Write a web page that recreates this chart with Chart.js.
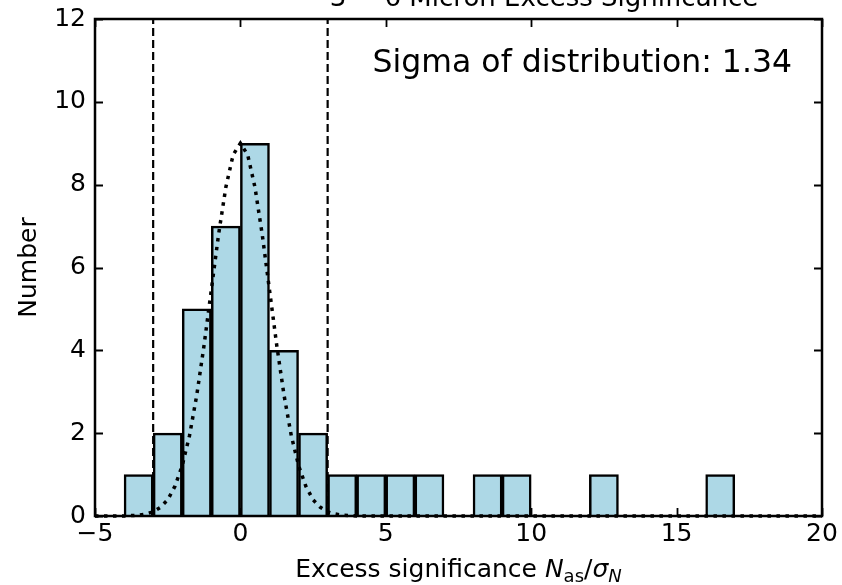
<!DOCTYPE html>
<html>
<head>
<meta charset="utf-8">
<script src="https://cdn.jsdelivr.net/npm/chart.js@4"></script>
<style>
  html, body { margin: 0; padding: 0; background: #fff; }
  #wrap { width: 842px; height: 585px; }
</style>
</head>
<body>
<div id="wrap"><canvas id="histChart" width="842" height="585"></canvas></div>
<script>
// histogram bins (left edges, width 1) and counts
const binStarts = [-4, -3, -2, -1, 0, 1, 2, 3, 4, 5, 6, 7, 8, 9, 10, 11, 12, 13, 14, 15, 16];
const binCounts = [1, 2, 5, 7, 9, 4, 2, 1, 1, 1, 1, 0, 1, 1, 0, 0, 1, 0, 0, 0, 1];

// dotted reference curve
const fitX = [-5, -4.5, -4, -3.75, -3.5, -3.25, -3, -2.75, -2.5, -2.25, -2, -1.75, -1.5, -1.25, -1, -0.75, -0.5, -0.25, 0,
              0.25, 0.5, 0.75, 1, 1.25, 1.5, 1.75, 2, 2.25, 2.5, 2.75, 3, 3.25, 3.5, 3.75, 4, 4.5, 20];
const fitY = [0, 0, 0, 0.01, 0.02, 0.05, 0.10, 0.21, 0.39, 0.72, 1.22, 1.94, 2.92, 4.12, 5.46, 6.80, 7.94, 8.72, 9.00,
              8.72, 7.94, 6.80, 5.46, 4.12, 2.92, 1.94, 1.22, 0.72, 0.39, 0.21, 0.10, 0.05, 0.02, 0.01, 0, 0, 0];

// dashed cut lines
const cutLines = [-3, 3];

const xTicks = [-5, 0, 5, 10, 15, 20];
const yTicks = [0, 2, 4, 6, 8, 10, 12];

const FONT = "'DejaVu Sans', sans-serif";

const histData = binStarts.map((b, i) => ({ x: b + 0.5, y: binCounts[i] }));
const fitData = fitX.map((x, i) => ({ x: x, y: fitY[i] }));

const cutSets = cutLines.map(c => ({
    type: 'line',
    data: [{ x: c, y: 0 }, { x: c, y: 12 }],
    borderColor: '#000',
    borderWidth: 2.2,
    borderDash: [8, 4],
    pointRadius: 0,
    order: 0
}));

const minus = v => (v < 0 ? '\u2212' + Math.abs(v) : String(v));

const framePlugin = {
    id: 'frame',
    afterDatasetsDraw(chart) {
        const { ctx, chartArea: a, scales } = chart;
        ctx.save();
        ctx.strokeStyle = '#000';
        ctx.lineWidth = 2.5;
        ctx.strokeRect(a.left, a.top, a.right - a.left, a.bottom - a.top);
        ctx.lineWidth = 1.8;
        ctx.beginPath();
        xTicks.forEach(t => {
            const px = Math.round(scales.x.getPixelForValue(t)) + 0.5;
            ctx.moveTo(px, a.bottom); ctx.lineTo(px, a.bottom - 8);
            ctx.moveTo(px, a.top); ctx.lineTo(px, a.top + 8);
        });
        yTicks.forEach(t => {
            const py = Math.round(scales.y.getPixelForValue(t)) + 0.5;
            ctx.moveTo(a.left, py); ctx.lineTo(a.left + 8, py);
            ctx.moveTo(a.right, py); ctx.lineTo(a.right - 8, py);
        });
        ctx.stroke();
        ctx.restore();
    },
    afterDraw(chart) {
        const { ctx, chartArea: a } = chart;
        ctx.save();
        ctx.fillStyle = '#000';
        // title, cut off by the top edge
        ctx.font = '26px ' + FONT;
        ctx.textAlign = 'center';
        ctx.textBaseline = 'alphabetic';
        ctx.fillText('3 \u2212 6 Micron Excess Significance', 544, 6);

        // annotation
        ctx.font = '31.5px ' + FONT;
        ctx.textAlign = 'right';
        ctx.fillText('Sigma of distribution: 1.34', 792, 72);

        // y title
        ctx.save();
        ctx.font = '25px ' + FONT;
        ctx.textAlign = 'center';
        ctx.translate(36, (a.top + a.bottom) / 2);
        ctx.rotate(-Math.PI / 2);
        ctx.fillText('Number', 0, 0);
        ctx.restore();

        // x title with math parts
        const parts = [
            { t: 'Excess significance ', f: '25px ' + FONT, dy: 0 },
            { t: 'N', f: 'italic 25px ' + FONT, dy: 0 },
            { t: 'as', f: '18px ' + FONT, dy: 5 },
            { t: '/', f: '25px ' + FONT, dy: 0 },
            { t: '\u03c3', f: 'italic 25px ' + FONT, dy: 0 },
            { t: 'N', f: 'italic 18px ' + FONT, dy: 5 }
        ];
        let total = 0;
        parts.forEach(p => { ctx.font = p.f; p.w = ctx.measureText(p.t).width; total += p.w; });
        let x = (a.left + a.right) / 2 - total / 2;
        const base = 577;
        ctx.textAlign = 'left';
        parts.forEach(p => { ctx.font = p.f; ctx.fillText(p.t, x, base + p.dy); x += p.w; });
        ctx.restore();
    }
};

new Chart(document.getElementById('histChart'), {
    data: {
        datasets: [
            {
                type: 'line',
                data: fitData,
                borderColor: '#000',
                borderWidth: 3.5,
                borderDash: [3.5, 5.5],
                pointRadius: 0,
                tension: 0,
                clip: 6,
                order: 0
            },
            ...cutSets,
            {
                type: 'bar',
                data: histData,
                backgroundColor: '#add8e6',
                borderColor: '#000',
                borderWidth: 2.5,
                barPercentage: 1,
                categoryPercentage: 1,
                order: 1
            }
        ]
    },
    options: {
        responsive: false,
        animation: false,
        layout: { padding: { top: 19, right: 20, left: 0, bottom: 0 } },
        plugins: { legend: { display: false }, tooltip: { enabled: false } },
        scales: {
            x: {
                type: 'linear',
                min: -5,
                max: 20,
                offset: false,
                afterBuildTicks: s => { s.ticks = xTicks.map(v => ({ value: v })); },
                afterFit: s => { s.height = 69; s.paddingLeft = 0; s.paddingRight = 0; },
                grid: { display: false, drawTicks: false },
                border: { display: false },
                ticks: {
                    color: '#000',
                    font: { family: FONT, size: 25 },
                    padding: 3,
                    maxRotation: 0,
                    callback: v => minus(v)
                }
            },
            y: {
                min: 0,
                max: 12,
                afterBuildTicks: s => { s.ticks = yTicks.map(v => ({ value: v })); },
                afterFit: s => { s.width = 95; s.paddingTop = 0; s.paddingBottom = 0; },
                grid: { display: false, drawTicks: false },
                border: { display: false },
                ticks: {
                    color: '#000',
                    font: { family: FONT, size: 25 },
                    padding: 9,
                    callback: v => minus(v)
                }
            }
        }
    },
    plugins: [framePlugin]
});
</script>
</body>
</html>
